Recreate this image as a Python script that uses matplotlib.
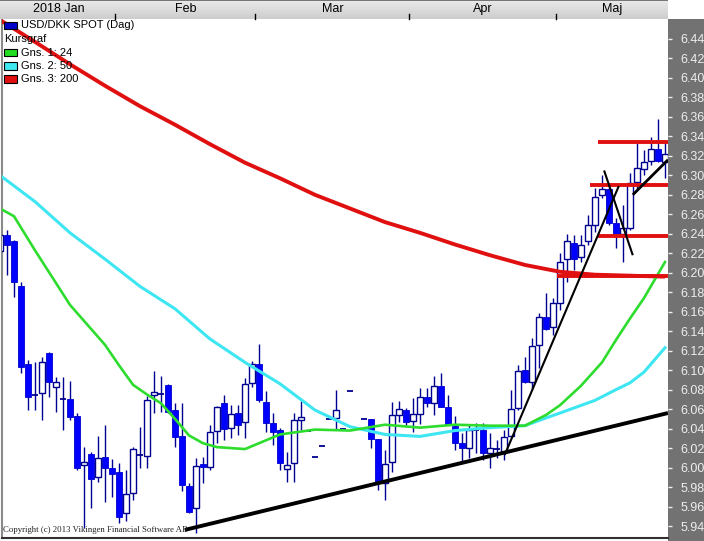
import numpy as np
import matplotlib
matplotlib.use('Agg')
import matplotlib.pyplot as plt
import matplotlib.transforms as mtransforms
from matplotlib.patches import Rectangle
from matplotlib.colors import LinearSegmentedColormap

# USD/DKK daily candles, early Jan -> mid May 2018 (one entry per trading day)
opens = [6.222, 6.239, 6.233, 6.186, 6.106, 6.075, 6.077, 6.118, 6.083, 6.070,
         6.070, 6.053, 6.003, 6.014, 5.990, 6.011, 6.000, 5.995, 5.953, 5.974,
         6.013, 6.012, 6.075, 6.076, 6.085, 6.059, 6.032, 5.981, 5.958, 6.004,
         6.001, 6.038, 6.066, 6.041, 6.056, 6.047, 6.087, 6.106, 6.067, 6.046,
         6.039, 5.999, 6.005, 6.049, 6.038, 6.011, 6.022, 6.050, 6.051, 6.040,
         6.079, 6.040, 6.050, 6.050, 6.029, 5.984, 6.006, 6.054, 6.059, 6.048,
         6.055, 6.072, 6.066, 6.084, 6.062, 6.043, 6.025, 6.020, 6.039, 6.039,
         6.015, 6.019, 6.016, 6.032, 6.061, 6.100, 6.088, 6.126, 6.155, 6.144,
         6.169, 6.214, 6.231, 6.216, 6.233, 6.249, 6.280, 6.286, 6.251, 6.240,
         6.246, 6.293, 6.307, 6.315, 6.327, 6.314]
highs = [6.242, 6.244, 6.234, 6.191, 6.110, 6.108, 6.114, 6.119, 6.093, 6.093,
         6.089, 6.056, 6.021, 6.016, 6.032, 6.044, 6.009, 6.005, 5.998, 6.021,
         6.042, 6.073, 6.099, 6.094, 6.086, 6.066, 6.066, 5.984, 6.010, 6.011,
         6.044, 6.063, 6.075, 6.064, 6.064, 6.092, 6.109, 6.127, 6.079, 6.056,
         6.041, 6.016, 6.056, 6.068, 6.038, 6.011, 6.022, 6.050, 6.080, 6.040,
         6.079, 6.040, 6.050, 6.050, 6.029, 6.018, 6.067, 6.068, 6.061, 6.071,
         6.082, 6.082, 6.094, 6.097, 6.075, 6.053, 6.036, 6.044, 6.046, 6.046,
         6.036, 6.028, 6.039, 6.080, 6.105, 6.114, 6.133, 6.159, 6.179, 6.174,
         6.220, 6.240, 6.239, 6.239, 6.259, 6.287, 6.300, 6.290, 6.256, 6.270,
         6.302, 6.333, 6.326, 6.339, 6.358, 6.333]
lows = [6.218, 6.198, 6.175, 6.097, 6.059, 6.059, 6.049, 6.072, 6.057, 6.039,
        6.049, 5.998, 5.938, 5.958, 5.985, 5.965, 5.970, 5.943, 5.945, 5.967,
        6.000, 6.000, 6.056, 6.057, 6.056, 6.021, 5.976, 5.953, 5.933, 5.984,
        5.998, 6.025, 6.028, 6.030, 6.033, 6.030, 6.083, 6.067, 6.037, 6.023,
        5.998, 5.985, 5.985, 6.039, 6.038, 6.011, 6.022, 6.050, 6.040, 6.040,
        6.079, 6.040, 6.050, 6.020, 5.977, 5.967, 5.995, 6.047, 6.044, 6.037,
        6.045, 6.062, 6.054, 6.062, 6.044, 6.018, 6.006, 6.010, 6.015, 6.008,
        6.000, 6.010, 6.008, 6.031, 6.059, 6.087, 6.080, 6.102, 6.141, 6.136,
        6.162, 6.191, 6.203, 6.211, 6.229, 6.242, 6.277, 6.249, 6.225, 6.211,
        6.244, 6.285, 6.300, 6.311, 6.314, 6.297]
closes = [6.239, 6.229, 6.190, 6.103, 6.072, 6.073, 6.108, 6.088, 6.088, 6.070,
          6.052, 6.000, 6.006, 5.988, 6.010, 6.000, 5.993, 5.949, 5.973, 6.019,
          6.013, 6.069, 6.078, 6.076, 6.057, 6.031, 5.982, 5.954, 6.002, 6.001,
          6.037, 6.062, 6.040, 6.055, 6.044, 6.086, 6.106, 6.069, 6.046, 6.037,
          6.005, 6.003, 6.049, 6.052, 6.038, 6.011, 6.022, 6.050, 6.059, 6.040,
          6.079, 6.040, 6.050, 6.029, 5.984, 6.004, 6.054, 6.060, 6.047, 6.055,
          6.072, 6.066, 6.084, 6.062, 6.044, 6.025, 6.020, 6.039, 6.039, 6.015,
          6.020, 6.019, 6.031, 6.060, 6.099, 6.088, 6.125, 6.155, 6.142, 6.169,
          6.211, 6.233, 6.214, 6.228, 6.249, 6.278, 6.286, 6.251, 6.240, 6.246,
          6.292, 6.308, 6.314, 6.327, 6.315, 6.322]

# moving averages (day index, value)
ma24_idx = [0, 2, 5, 10, 15, 17, 19, 21, 23, 25, 27, 29, 31, 35, 40, 45, 50, 55, 60, 65,
            70, 75, 78, 80, 83, 86, 88, 90, 92, 95]
ma24 = [6.266, 6.258, 6.223, 6.167, 6.126, 6.105, 6.085, 6.075, 6.066, 6.050,
        6.033, 6.025, 6.021, 6.019, 6.034, 6.039, 6.038, 6.044, 6.041, 6.044,
        6.043, 6.043, 6.054, 6.064, 6.084, 6.108, 6.131, 6.153, 6.174, 6.211]
ma50_idx = [0, 5, 10, 15, 20, 25, 30, 35, 40, 45, 50, 55, 60, 65, 70, 75, 78, 80, 85, 88,
            90, 92, 95]
ma50 = [6.300, 6.273, 6.241, 6.214, 6.186, 6.163, 6.132, 6.108, 6.086, 6.059,
        6.042, 6.034, 6.032, 6.038, 6.041, 6.043, 6.051, 6.056, 6.069, 6.080,
        6.087, 6.098, 6.123]
ma200_idx = [0, 5, 10, 15, 20, 25, 30, 35, 40, 45, 50, 55, 60, 65, 70, 75, 80, 85, 90, 95]
ma200 = [6.4595, 6.437, 6.414, 6.392, 6.371, 6.352, 6.332, 6.313, 6.297, 6.280,
         6.266, 6.252, 6.241, 6.229, 6.218, 6.208, 6.201, 6.198, 6.197, 6.196]

# drawn trend lines and support/resistance levels
trend_x = [[26.4, 95.43], [72.1, 88.4], [86.3, 90.4], [90.4, 95.43]]
trend_y = [[5.936, 6.056], [6.013, 6.289], [6.305, 6.218], [6.280, 6.316]]
trend_w = [2.8, 1.5, 1.5, 2.0]
levels = [6.334, 6.290, 6.238, 6.197]
level_start = [85.4, 84.3, 85.4, 79.6]

months = ['2018 Jan', 'Feb', 'Mar', 'Apr', 'Maj']
month_first = [0, 17, 37, 59, 80]

W, H = 704, 541
fig = plt.figure(figsize=(W / 100, H / 100), dpi=100)
fig.patch.set_facecolor('white')

def fx(px):
    return px / W

def fy(py):
    return 1 - py / H

x0, x1 = 2 / 7, 95.43
ax = fig.add_axes([fx(2), fy(538), fx(668) - fx(2), (538 - 19) / H])
ax.set_xlim(x0, x1)
ax.set_ylim(5.9277, 6.4605)
ax.set_facecolor('white')

o = np.array(opens); h = np.array(highs); l = np.array(lows); c = np.array(closes)
idx = np.arange(len(o))
navy = '#000090'
ax.vlines(idx, l, h, color=navy, lw=1.0, zorder=2)
doji = np.abs(c - o) < 0.002
down = (c < o) & ~doji
up = (c >= o) & ~doji
ax.bar(idx[down], (o - c)[down], bottom=c[down], width=0.8, color='#0000ff',
       edgecolor='#0000d0', lw=0.6, zorder=3)
ax.bar(idx[up], (c - o)[up], bottom=o[up], width=0.76, color='white',
       edgecolor=navy, lw=1.0, zorder=3)
ax.hlines(o[doji], idx[doji] - 0.4, idx[doji] + 0.4, color=navy, lw=1.3, zorder=3)

ax.plot(ma200_idx, ma200, color='#e01010', lw=2.8, zorder=4, solid_capstyle='butt')
ax.plot(ma50_idx, ma50, color='#3ee6f2', lw=2.2, zorder=4)
ax.plot(ma24_idx, ma24, color='#2edc2e', lw=1.9, zorder=5)

for lv, st in zip(levels, level_start):
    ax.hlines(lv, st, x1 + 1, color='#e01010', lw=2.8, zorder=5)
for xs, ys, w in zip(trend_x, trend_y, trend_w):
    ax.plot(xs, ys, color='black', lw=w, zorder=6, solid_capstyle='butt')

# right price scale
ax.yaxis.tick_right()
ax.set_yticks(np.arange(5.94, 6.4401, 0.02))
ax.yaxis.set_major_formatter(matplotlib.ticker.FormatStrFormatter('%.2f'))
ax.tick_params(axis='y', colors='#eeeeee', labelsize=9, length=3, width=1, pad=6)
for t in ax.get_yticklabels():
    t.set_family('Liberation Sans')
ax.set_xticks([])
ax.spines['top'].set_visible(False)
ax.spines['right'].set_visible(False)
ax.spines['left'].set_color('#8a8a8a')
ax.spines['left'].set_linewidth(1.5)
ax.spines['bottom'].set_color('#303030')
ax.spines['bottom'].set_linewidth(1.5)

fig.add_artist(Rectangle((fx(668), 0), 1 - fx(668), fy(19), transform=fig.transFigure,
                         facecolor='#727272', edgecolor='none', zorder=-5))

# header with months
hax = fig.add_axes([0, fy(19), fx(668), 19 / H])
cmap = LinearSegmentedColormap.from_list('hdr', ['#eaeaea', '#cdcdcd'])
hax.imshow(np.linspace(0, 1, 30)[:, None], cmap=cmap, aspect='auto', extent=[0, 1, 0, 1])
hax.set_xlim(0, 1); hax.set_ylim(0, 1)
hax.axis('off')
hax.axhline(1, color='#606060', lw=1.2)

trans = mtransforms.blended_transform_factory(ax.transData, fig.transFigure)
bounds = [x0] + [m - 0.5 for m in month_first[1:]] + [x1]
for i, name in enumerate(months):
    fig.text((bounds[i] + bounds[i + 1]) / 2, fy(9), name, transform=trans,
             ha='center', va='center', fontsize=9, family='Liberation Sans')
for b in bounds[1:-1]:
    fig.add_artist(matplotlib.lines.Line2D([b, b], [fy(14), fy(19)], transform=trans,
                                           color='black', lw=1))

# legend block
leg = [('#0000c8', 'USD/DKK SPOT (Dag)', 25.5), (None, 'Kursgraf', 39),
       ('#22dd22', 'Gns. 1: 24', 52.5), ('#40e8f0', 'Gns. 2: 50', 66),
       ('#e01010', 'Gns. 3: 200', 79)]
for col, txt, yy in leg:
    if col is None:
        fig.text(fx(4), fy(yy), txt, fontsize=8, va='center', family='Liberation Sans')
        continue
    fig.add_artist(Rectangle((fx(4), fy(yy + 3.5)), 13 / W, 7 / H, transform=fig.transFigure,
                             facecolor=col, edgecolor='black', lw=0.8, zorder=10))
    fig.text(fx(21), fy(yy), txt, fontsize=8, va='center', family='Liberation Sans')

fig.text(fx(3), fy(530), 'Copyright (c) 2013 Vikingen Financial Software AB',
         fontsize=6.3, va='center', family='Liberation Serif', color='#202020')

fig.savefig('out.png', dpi=100)
